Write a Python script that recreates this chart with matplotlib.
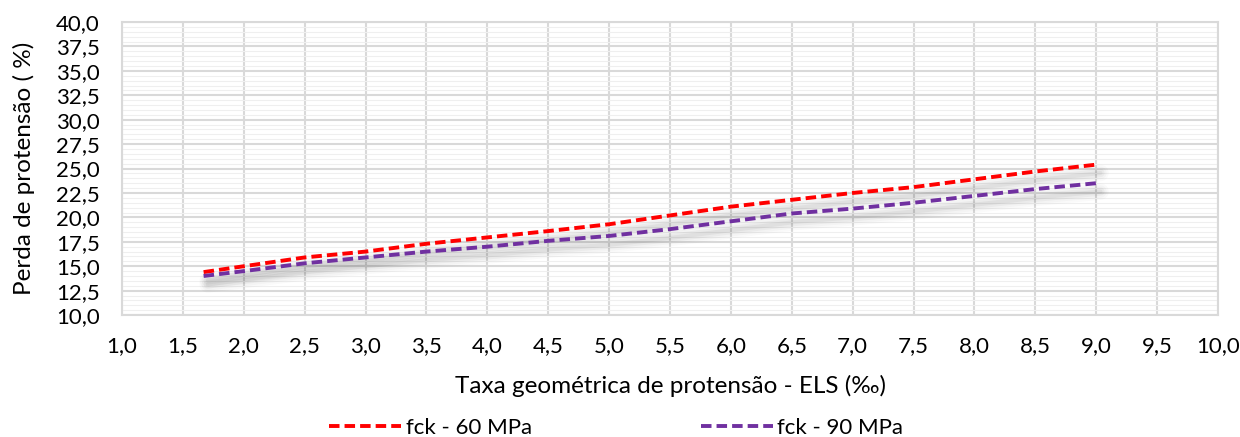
import numpy as np
import matplotlib
matplotlib.use("Agg")
import matplotlib.pyplot as plt
from matplotlib.ticker import MultipleLocator, FuncFormatter
from matplotlib.transforms import ScaledTranslation

plt.rcParams['font.family'] = ['Lato', 'DejaVu Sans']

# Perda de protensão (%) x taxa geométrica de protensão (‰)
taxa = [1.67, 2.0, 2.5, 3.0, 3.5, 4.0, 4.5, 5.0, 5.5, 6.0, 6.5, 7.0, 7.5, 8.0, 8.5, 9.0]
perda_fck60 = [14.4, 15.0, 15.9, 16.5, 17.3, 17.95, 18.6, 19.3, 20.2, 21.1, 21.8, 22.5, 23.1, 23.9, 24.7, 25.4]
perda_fck90 = [14.0, 14.5, 15.3, 15.9, 16.5, 17.0, 17.6, 18.1, 18.8, 19.6, 20.4, 20.9, 21.5, 22.2, 22.9, 23.5]
series = [("fck - 60 MPa", perda_fck60, "#FF0000"),
          ("fck - 90 MPa", perda_fck90, "#7030A0")]

fig = plt.figure(figsize=(12.4, 4.37), dpi=100)
ax = fig.add_axes([0.0984, 0.279, 0.8839, 0.6706])

ax.set_xlim(1.0, 10.0)
ax.set_ylim(10.0, 40.0)
ax.xaxis.set_major_locator(MultipleLocator(0.5))
ax.yaxis.set_major_locator(MultipleLocator(2.5))
ax.yaxis.set_minor_locator(MultipleLocator(0.5))
fmt = FuncFormatter(lambda v, p: f"{v:.1f}".replace(".", ","))
ax.xaxis.set_major_formatter(fmt)
ax.yaxis.set_major_formatter(fmt)

ax.grid(which="major", color="#D9D9D9", linewidth=1.5, zorder=0)
ax.grid(which="minor", axis="y", color="#EFEFEF", linewidth=0.8, zorder=0)
ax.set_axisbelow(True)
for s in ax.spines.values():
    s.set_color("#D9D9D9")
    s.set_linewidth(1.5)

ax.tick_params(which="both", length=0, labelsize=16, colors="black")
ax.tick_params(axis="x", pad=15)
ax.tick_params(axis="y", pad=16)

# soft drop shadow under each curve
for name, vals, color in series:
    for lw, a in [(12, 0.02), (9, 0.025), (6, 0.035), (3, 0.045)]:
        shift = ScaledTranslation(3 / 72, -6 / 72, fig.dpi_scale_trans)
        ax.plot(taxa, vals, color="black", alpha=a, linewidth=lw,
                solid_capstyle="round", transform=ax.transData + shift, zorder=2)

for name, vals, color in series:
    ax.plot(taxa, vals, color=color, linewidth=2.8, dashes=(2.7, 1.3),
            label=name, zorder=3)

ax.set_xlabel("Taxa geométrica de protensão - ELS (‰)", fontsize=17.5, labelpad=14)
ax.set_ylabel("Perda de protensão ( %)", fontsize=17.5, labelpad=15)

handles, labels = ax.get_legend_handles_labels()
fig.legend(handles, labels, loc="center", bbox_to_anchor=(0.497, 1 - 428 / 437),
           ncol=2, frameon=False, fontsize=16, handlelength=3.25,
           handletextpad=0.2, columnspacing=7.6)

fig.savefig("out.png", dpi=100)
